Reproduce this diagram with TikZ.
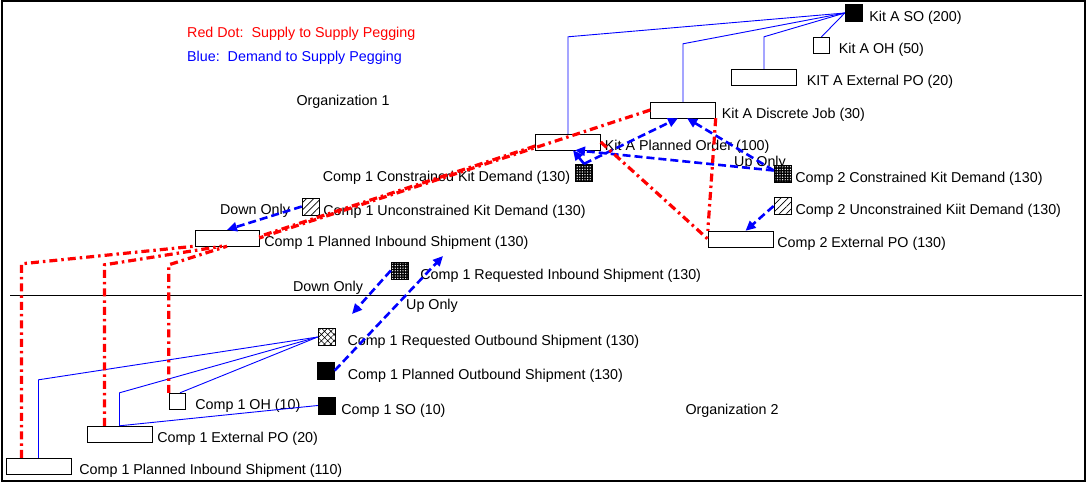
\documentclass[tikz,border=0pt]{standalone}
\usepackage{fontspec}
\setmainfont{Liberation Sans}
\usetikzlibrary{positioning,arrows.meta,patterns,patterns.meta}

\begin{document}
\begin{tikzpicture}[
  x=1pt, y=-1pt,
  font=\fontsize{14.3}{16}\selectfont,
  sply/.style={draw, minimum width=65pt, minimum height=16pt, inner sep=0pt},
  dmd/.style={draw, minimum size=17pt, inner sep=0pt},
  ohbox/.style={dmd, minimum size=16pt},
  sodmd/.style={dmd, fill=black},
  knit/.style={dmd, preaction={fill=black}, pattern={Dots[distance=2.6pt,radius=0.7pt]}, pattern color=white},
  ukit/.style={dmd, pattern={Lines[angle=45,distance=5pt,line width=0.7pt]}},
  rqout/.style={dmd, pattern={Hatch[angle=45,distance=4.5pt,line width=0.6pt]}},
  lbl/.style={inner sep=0pt, yshift=-5pt},
  note/.style={inner sep=0pt, yshift=-2pt},
  peg/.style={blue, line width=0.9pt},
  dpeg/.style={blue, line width=2.6pt, dash pattern=on 8pt off 4pt, -{Triangle[length=10pt,width=9pt]}},
  speg/.style={red, line width=3.2pt, dash pattern=on 8pt off 4pt on 2.5pt off 4pt}
]
\useasboundingbox (0,0) rectangle (1089,484);
\draw[line width=2pt] (2,1) rectangle (1085,481);
\draw[line width=1pt] (10,295) -- (1082,295);
% legend
\node[note, anchor=west, red] (lgred) at (187,32) {Red Dot:\ \ Supply to Supply Pegging};
\node[note, anchor=west, blue] (lgblue) at (187,56) {Blue:\ \ Demand to Supply Pegging};
\node[note] (org1) at (343,100) {Organization 1};
\node[note] (org2) at (732,409) {Organization 2};
% kit A
\node[sodmd] (kaso) at (853.5,13) {};
\node[lbl, right=7pt of kaso] (kasot) {Kit A SO (200)};
\node[ohbox] (kaoh) at (821.5,45) {};
\node[lbl, right=9pt of kaoh] (kaoht) {Kit A OH (50)};
\node[sply] (kapo) at (764,77) {};
\node[lbl, right=10pt of kapo] (kapot) {KIT A External PO (20)};
\node[sply] (kadj) at (683,110) {};
\node[lbl, right=6pt of kadj] (kadjt) {Kit A Discrete Job (30)};
\node[sply] (kapl) at (568,142) {};
\node[lbl, right=4pt of kapl] (kaplt) {Kit A Planned Order (100)};
% organization 1 components
\node[knit] (cka) at (584,172.5) {};
\node[lbl, left=5pt of cka] (ckat) {Comp 1 Constrained Kit Demand (130)};
\node[knit] (ckb) at (782.5,173.5) {};
\node[lbl, right=4pt of ckb] (ckbt) {Comp 2 Constrained Kit Demand (130)};
\node[ukit] (ukb) at (782.5,206) {};
\node[lbl, right=4pt of ukb] (ukbt) {Comp 2 Unconstrained Kiit Demand (130)};
\node[sply] (pob) at (740.5,239) {};
\node[lbl, right=4pt of pob] (pobt) {Comp 2 External PO (130)};
\node[ukit] (uka) at (310.5,206.5) {};
\node[lbl, right=4pt of uka] (ukat) {Comp 1 Unconstrained Kit Demand (130)};
\node[sply, minimum width=64pt] (pisa) at (227,238) {};
\node[lbl, right=5pt of pisa] (pisat) {Comp 1 Planned Inbound Shipment (130)};
\node[knit] (risa) at (399.5,270.5) {};
\node[lbl, right=12pt of risa] (risat) {Comp 1 Requested Inbound Shipment (130)};
% organization 2
\node[rqout] (rosa) at (326.5,337) {};
\node[lbl, right=12pt of rosa] (rosat) {Comp 1 Requested Outbound Shipment (130)};
\node[sodmd] (posa) at (326,370.5) {};
\node[lbl, right=13pt of posa] (posat) {Comp 1 Planned Outbound Shipment (130)};
\node[sodmd] (soa) at (326.5,405.5) {};
\node[lbl, right=6pt of soa] (soat) {Comp 1 SO (10)};
\node[ohbox] (oha) at (177,401) {};
\node[lbl, right=10pt of oha] (ohat) {Comp 1 OH (10)};
\node[sply] (poa) at (119.5,434) {};
\node[lbl, right=5pt of poa] (poat) {Comp 1 External PO (20)};
\node[sply] (pisc) at (38.5,466) {};
\node[lbl, right=8pt of pisc] (pisct) {Comp 1 Planned Inbound Shipment (110)};
% direction notes
\node[note] (upb) at (760,161) {Up Only};
\node[note] (dna) at (255,209) {Down Only};
\node[note] (dnb) at (328,286) {Down Only};
\node[note] (upa) at (432,304) {Up Only};
\coordinate (dnend) at (352,314);
\coordinate (upend) at (443,256);
% blue: demand to supply
\draw[peg] (kapl.north) -- ++(0,-97) -- (kaso.west);
\draw[peg] (kadj.north) -- ++(0,-58) -- (kaso.west);
\draw[peg] (kapo.north) -- ++(0,-32) -- (kaso.west);
\draw[peg] (kaoh.north) -- (kaso.west);
\draw[peg] (pisc.north) -- ++(0,-78) -- (rosa.west);
\draw[peg] (poa.north) -- ++(0,-33) -- (rosa.west);
\draw[peg] ([xshift=3pt]oha.north) -- (rosa.west);
\draw[peg] (soa.west) -- (poa.north);
\draw[dpeg] (cka.north) -- ([xshift=5pt]kapl.south);
\draw[dpeg] ([yshift=3pt]ckb.west) -- ([xshift=7pt]kapl.south);
\draw[dpeg] (cka.north) -- ([xshift=-5pt]kadj.south);
\draw[dpeg] ([yshift=3pt]ckb.west) -- ([xshift=4pt]kadj.south);
\draw[dpeg] (ukb.west) -- ([xshift=5pt]pob.north);
\draw[dpeg] (uka.west) -- (pisa.north);
\draw[dpeg] (risa.west) -- (dnend);
\draw[dpeg] (posa.east) -- (upend);
% red: supply to supply
\draw[speg] (kadj.west) -- (pisa.east);
\draw[speg] ([yshift=-4pt]kapl.west) -- ([yshift=1.5pt]pisa.east);
\draw[speg] (kapl.east) -- (pob.west);
\draw[speg] (kadj.south east) -- (pob.north west);
\draw[speg] ([xshift=-17pt]pisc.north) -- ++(0,-194) -- (pisa.south west);
\draw[speg] ([xshift=-15pt]poa.north) -- ++(0,-161) -- ([xshift=-5pt]pisa.south);
\draw[speg] (oha.north west) -- ++(0,-128) -- (pisa.south);
\end{tikzpicture}
\end{document}
